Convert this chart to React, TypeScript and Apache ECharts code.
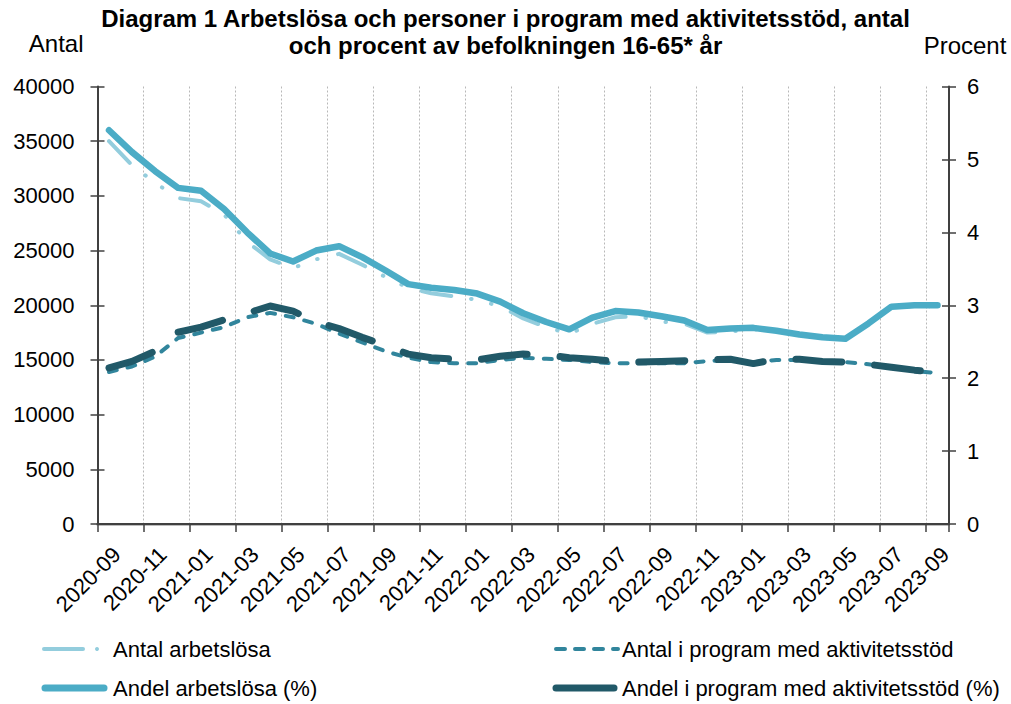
import React, { useEffect, useRef } from "react";
import * as echarts from "echarts";

const months: string[] = [
  "2020-09", "2020-10", "2020-11", "2020-12",
  "2021-01", "2021-02", "2021-03", "2021-04", "2021-05", "2021-06",
  "2021-07", "2021-08", "2021-09", "2021-10", "2021-11", "2021-12",
  "2022-01", "2022-02", "2022-03", "2022-04", "2022-05", "2022-06",
  "2022-07", "2022-08", "2022-09", "2022-10", "2022-11", "2022-12",
  "2023-01", "2023-02", "2023-03", "2023-04", "2023-05", "2023-06",
  "2023-07", "2023-08", "2023-09",
];

// Antal arbetslösa (left axis)
const antalArbetslosa: number[] = [
  35000, 32800, 31200, 29800, 29500, 28300, 25800, 24200, 23400, 24200,
  24700, 23700, 22600, 21600, 21100, 20800, 20500, 19900, 18800, 18000,
  17400, 18300, 18900, 19000, 18500, 18300, 17500, 17600, 17800, 17600,
  17300, 17000, 16900, 18300, 19800, 19900, 19900,
];

// Antal i program med aktivitetsstöd (left axis)
const antalProgram: number[] = [
  13900, 14400, 15300, 17000, 17500, 18000, 18900, 19300, 18900, 18300,
  17400, 16600, 15800, 15200, 14800, 14700, 14700, 15000, 15200, 15100,
  15000, 14800, 14700, 14700, 14700, 14700, 14900, 15000, 14800, 15000,
  15000, 14900, 14800, 14600, 14300, 14000, 13800,
];

// Andel arbetslösa (%) (right axis)
const andelArbetslosa: number[] = [
  5.40, 5.10, 4.84, 4.61, 4.57, 4.32, 4.00, 3.71, 3.60, 3.75,
  3.81, 3.66, 3.48, 3.29, 3.24, 3.21, 3.16, 3.05, 2.89, 2.77,
  2.67, 2.83, 2.92, 2.90, 2.85, 2.79, 2.66, 2.68, 2.69, 2.65,
  2.60, 2.56, 2.54, 2.75, 2.98, 3.00, 3.00,
];

// Andel i program med aktivitetsstöd (%) (right axis)
const andelProgram: number[] = [
  2.14, 2.23, 2.37, 2.63, 2.70, 2.80, 2.89, 2.99, 2.92, 2.77,
  2.68, 2.56, 2.45, 2.33, 2.28, 2.26, 2.25, 2.30, 2.33, 2.32,
  2.28, 2.26, 2.23, 2.22, 2.23, 2.24, 2.25, 2.26, 2.20, 2.26,
  2.26, 2.23, 2.22, 2.19, 2.15, 2.11, 2.08,
];

const seriesNames: string[] = [
  "Antal arbetslösa",
  "Antal i program med aktivitetsstöd",
  "Andel arbetslösa (%)",
  "Andel i program med aktivitetsstöd (%)",
];

const titleText =
  "Diagram 1 Arbetslösa och personer i program med aktivitetsstöd, antal\noch procent av befolkningen 16-65* år";

const FONT = "'Liberation Sans', Arial, sans-serif";
const C_LIGHT = "#93cddd";
const C_TEAL = "#31859c";
const C_MED = "#4bacc6";
const C_DARK = "#215968";
const AXIS = "#404040";

const everyOther = (index: number) => index % 2 === 0;

export default function App() {
  const ref = useRef<HTMLDivElement>(null);

  useEffect(() => {
    if (!ref.current) return;
    const chart = echarts.init(ref.current, undefined, { renderer: "svg" });

    const yBase = (min: number, max: number, interval: number) => ({
      type: "value",
      min,
      max,
      interval,
      splitLine: { show: false },
    });

    const option: any = {
      animation: false,
      backgroundColor: "#ffffff",
      textStyle: { fontFamily: FONT },
      title: {
        text: titleText,
        left: "center",
        top: 0,
        textStyle: {
          fontFamily: FONT,
          fontSize: 24,
          fontWeight: "bold",
          lineHeight: 27,
          color: "#000",
        },
      },
      grid: { left: 97.5, right: 62, top: 86.5, bottom: 180, containLabel: false },
      xAxis: [
        {
          type: "category",
          data: months,
          position: "bottom",
          boundaryGap: true,
          axisLine: { show: true, lineStyle: { color: AXIS, width: 2 } },
          axisTick: { show: false },
          axisLabel: {
            interval: everyOther,
            rotate: 45,
            align: "right",
            verticalAlign: "top",
            margin: 19,
            fontSize: 22,
            color: "#000",
            fontFamily: FONT,
          },
          splitLine: { show: false },
          z: 5,
        },
        {
          type: "category",
          data: months,
          position: "top",
          boundaryGap: true,
          axisLine: { show: true, lineStyle: { color: "#a6a6a6", width: 2.5 } },
          axisTick: { show: false },
          axisLabel: { show: false },
          splitLine: { show: false },
        },
        {
          // month-boundary scale: ticks and dashed grid every second month
          type: "value",
          position: "bottom",
          min: 0,
          max: months.length,
          interval: 2,
          axisLine: { show: false },
          axisTick: { show: true, length: 8, lineStyle: { color: AXIS, width: 1.5 } },
          axisLabel: { show: false },
          splitLine: {
            show: true,
            lineStyle: { color: "#b8b8b8", width: 1, type: [2, 2] },
          },
        },
      ],
      yAxis: [
        {
          ...yBase(0, 40000, 5000),
          position: "left",
          name: "Antal",
          nameLocation: "end",
          nameGap: 43,
          nameTextStyle: {
            fontSize: 24,
            color: "#000",
            fontFamily: FONT,
            align: "right",
            verticalAlign: "middle",
            padding: [0, 14, 0, 0],
          },
          axisLine: { show: true, lineStyle: { color: AXIS, width: 2 } },
          axisTick: { show: true, length: 7, lineStyle: { color: AXIS, width: 1.5 } },
          axisLabel: {
            fontSize: 22,
            color: "#000",
            margin: 23,
            fontFamily: FONT,
            formatter: (v: number) => String(v),
          },
        },
        {
          ...yBase(0, 6, 1),
          position: "right",
          name: "Procent",
          nameLocation: "end",
          nameGap: 41,
          nameTextStyle: {
            fontSize: 24,
            color: "#000",
            fontFamily: FONT,
            align: "center",
            verticalAlign: "middle",
            padding: [0, 0, 0, 32],
          },
          axisLine: { show: true, lineStyle: { color: AXIS, width: 2 } },
          axisTick: { show: true, length: 7, lineStyle: { color: AXIS, width: 1.5 } },
          axisLabel: {
            fontSize: 22,
            color: "#000",
            margin: 18,
            fontFamily: FONT,
            formatter: (v: number) => String(v),
          },
        },
        {
          ...yBase(0, 40000, 5000),
          position: "left",
          axisLine: { show: false },
          axisTick: { show: true, inside: true, length: 7, lineStyle: { color: AXIS, width: 1.5 } },
          axisLabel: { show: false },
        },
        {
          ...yBase(0, 6, 1),
          position: "right",
          axisLine: { show: false },
          axisTick: { show: true, inside: true, length: 7, lineStyle: { color: AXIS, width: 1.5 } },
          axisLabel: { show: false },
        },
      ],
      series: [
        {
          name: seriesNames[0],
          type: "line",
          yAxisIndex: 0,
          data: antalArbetslosa,
          symbol: "none",
          lineStyle: { color: C_LIGHT, width: 4, type: [30, 20, 0.5, 20, 0.5, 21], cap: "round", join: "round" },
          itemStyle: { color: C_LIGHT },
        },
        {
          name: seriesNames[1],
          type: "line",
          yAxisIndex: 0,
          data: antalProgram,
          symbol: "none",
          lineStyle: { color: C_TEAL, width: 4, type: [8, 11], cap: "round", join: "round" },
          itemStyle: { color: C_TEAL },
        },
        {
          name: seriesNames[2],
          type: "line",
          yAxisIndex: 1,
          data: andelArbetslosa,
          symbol: "none",
          lineStyle: { color: C_MED, width: 6.5, type: "solid", cap: "round", join: "round" },
          itemStyle: { color: C_MED },
        },
        {
          name: seriesNames[3],
          type: "line",
          yAxisIndex: 1,
          data: andelProgram,
          symbol: "none",
          lineStyle: { color: C_DARK, width: 7, type: [46, 33], cap: "round", join: "round" },
          itemStyle: { color: C_DARK },
        },
      ],
      graphic: [
        { type: "line", shape: { x1: 44, y1: 649, x2: 83, y2: 649 }, style: { stroke: C_LIGHT, lineWidth: 4, lineCap: "round" } },
        { type: "circle", shape: { cx: 97, cy: 649, r: 2 }, style: { fill: C_LIGHT } },
        { type: "text", x: 113, y: 649, style: { text: seriesNames[0], fontSize: 22, fill: "#000", fontFamily: FONT, verticalAlign: "middle" } },
        { type: "line", shape: { x1: 556, y1: 649, x2: 618, y2: 649 }, style: { stroke: C_TEAL, lineWidth: 4, lineCap: "round", lineDash: [9, 10] } },
        { type: "text", x: 622, y: 649, style: { text: seriesNames[1], fontSize: 22, fill: "#000", fontFamily: FONT, verticalAlign: "middle" } },
        { type: "line", shape: { x1: 45, y1: 688, x2: 104, y2: 688 }, style: { stroke: C_MED, lineWidth: 7, lineCap: "round" } },
        { type: "text", x: 113, y: 688, style: { text: seriesNames[2], fontSize: 22, fill: "#000", fontFamily: FONT, verticalAlign: "middle" } },
        { type: "line", shape: { x1: 556, y1: 688, x2: 614, y2: 688 }, style: { stroke: C_DARK, lineWidth: 7, lineCap: "round" } },
        { type: "text", x: 622, y: 688, style: { text: seriesNames[3], fontSize: 22, fill: "#000", fontFamily: FONT, verticalAlign: "middle" } },
      ],
    };

    chart.setOption(option);
    return () => {
      chart.dispose();
    };
  }, []);

  return (
    <div
      ref={ref}
      style={{ position: "absolute", left: 0, top: 0, width: 1011, height: 704, background: "#fff" }}
    />
  );
}
